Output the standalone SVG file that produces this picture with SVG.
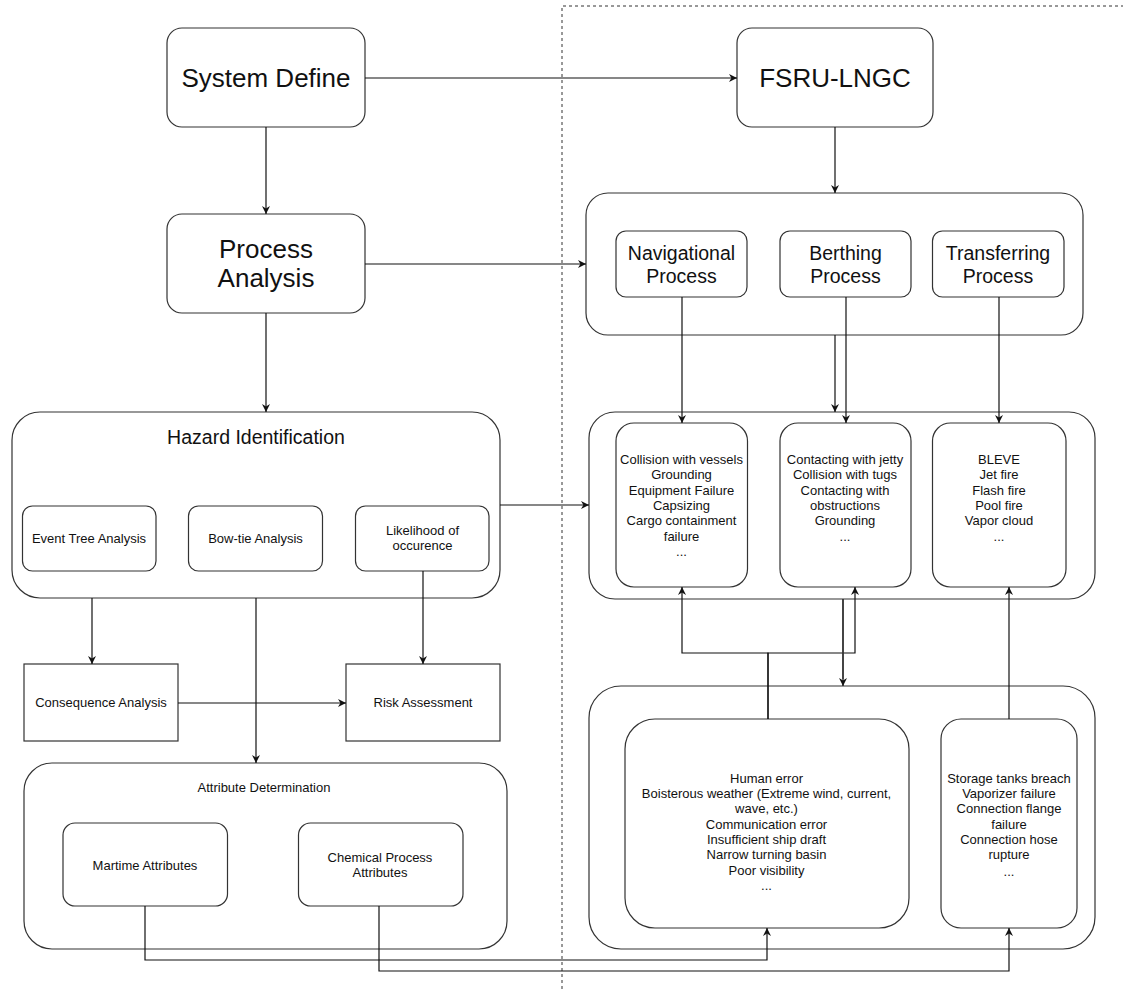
<svg xmlns="http://www.w3.org/2000/svg" width="1123" height="989" viewBox="0 0 1123 989">
<defs>
<style>
.box{fill:#fff;stroke:#333;stroke-width:1.2}
.t{font-family:"Liberation Sans",Arial,Helvetica,sans-serif;fill:#111;text-anchor:middle}
.xl{font-size:26px}
.l{font-size:19.5px}
.s{font-size:13px}
.c{fill:none;stroke:#111;stroke-width:1.2}
.g{fill:none;stroke:#777;stroke-width:1.6}
.a{marker-end:url(#arr)}
</style>
<marker id="arr" viewBox="0 0 10 10" refX="10" refY="5" markerWidth="8" markerHeight="8" markerUnits="userSpaceOnUse" orient="auto">
<path d="M0,0 L10,5 L0,10 L3,5 z" fill="#111"/>
</marker>
</defs>
<rect width="1123" height="989" fill="#fff"/>
<path d="M562,989 L562,6 L1123,6" fill="none" stroke="#333" stroke-width="1" stroke-dasharray="3 3"/>

<g id="system-define"><rect class="box" x="167" y="28" width="198" height="99" rx="15"/><text class="t xl" x="266" y="87">System Define</text></g>
<g id="process-analysis"><rect class="box" x="167" y="214" width="198" height="99" rx="15"/><text class="t xl" x="266" y="258">Process</text><text class="t xl" x="266" y="287">Analysis</text></g>
<g id="fsru-lngc"><rect class="box" x="737" y="28" width="196" height="99" rx="15"/><text class="t xl" x="835" y="87">FSRU-LNGC</text></g>

<g id="process-container"><rect class="box" x="586" y="193" width="497" height="142" rx="22"/></g>
<g id="navigational"><rect class="box" x="616" y="231" width="131" height="66" rx="10"/><text class="t l" x="681.5" y="259.5">Navigational</text><text class="t l" x="681.5" y="282.5">Process</text></g>
<g id="berthing"><rect class="box" x="780" y="231" width="131" height="66" rx="10"/><text class="t l" x="845.5" y="259.5">Berthing</text><text class="t l" x="845.5" y="282.5">Process</text></g>
<g id="transferring"><rect class="box" x="932.5" y="231" width="131.5" height="66" rx="10"/><text class="t l" x="998" y="259.5">Transferring</text><text class="t l" x="998" y="282.5">Process</text></g>

<g id="hazard-container"><rect class="box" x="589" y="412" width="506" height="187" rx="26"/></g>
<g id="nav-hazards"><rect class="box" x="616" y="423" width="131.5" height="164" rx="18"/>
<text class="t s" x="681.5" y="464">Collision with vessels</text><text class="t s" x="681.5" y="479.3">Grounding</text><text class="t s" x="681.5" y="494.6">Equipment Failure</text><text class="t s" x="681.5" y="510">Capsizing</text><text class="t s" x="681.5" y="525.3">Cargo containment</text><text class="t s" x="681.5" y="540.6">failure</text><text class="t s" x="681.5" y="556">...</text></g>
<g id="berth-hazards"><rect class="box" x="780" y="423" width="131" height="164" rx="18"/>
<text class="t s" x="845" y="464">Contacting with jetty</text><text class="t s" x="845" y="479.3">Collision with tugs</text><text class="t s" x="845" y="494.6">Contacting with</text><text class="t s" x="845" y="510">obstructions</text><text class="t s" x="845" y="525.3">Grounding</text><text class="t s" x="845" y="540.6">...</text></g>
<g id="transfer-hazards"><rect class="box" x="932.5" y="423" width="133.5" height="164" rx="18"/>
<text class="t s" x="999" y="464">BLEVE</text><text class="t s" x="999" y="479.3">Jet fire</text><text class="t s" x="999" y="494.6">Flash fire</text><text class="t s" x="999" y="510">Pool fire</text><text class="t s" x="999" y="525.3">Vapor cloud</text><text class="t s" x="999" y="540.6">...</text></g>

<g id="causes-container"><rect class="box" x="589" y="686" width="506" height="263" rx="32"/></g>
<g id="maritime-causes"><rect class="box" x="625" y="719" width="284" height="209" rx="30"/>
<text class="t s" x="766.5" y="782.5">Human error</text><text class="t s" x="766.5" y="798">Boisterous weather (Extreme wind, current,</text><text class="t s" x="766.5" y="813.3">wave, etc.)</text><text class="t s" x="766.5" y="828.7">Communication error</text><text class="t s" x="766.5" y="844">Insufficient ship draft</text><text class="t s" x="766.5" y="859.4">Narrow turning basin</text><text class="t s" x="766.5" y="874.8">Poor visibility</text><text class="t s" x="766.5" y="890">...</text></g>
<g id="chemical-causes"><rect class="box" x="941" y="719" width="136" height="209" rx="20"/>
<text class="t s" x="1009" y="782.5">Storage tanks breach</text><text class="t s" x="1009" y="798">Vaporizer failure</text><text class="t s" x="1009" y="813.3">Connection flange</text><text class="t s" x="1009" y="828.7">failure</text><text class="t s" x="1009" y="844">Connection hose</text><text class="t s" x="1009" y="859.4">rupture</text><text class="t s" x="1009" y="876">...</text></g>

<g id="hazard-identification"><rect class="box" x="12" y="412" width="488" height="186" rx="28"/><text class="t l" x="256" y="444">Hazard Identification</text></g>
<g id="event-tree"><rect class="box" x="22.5" y="506" width="133.5" height="65" rx="10"/><text class="t s" x="89" y="543">Event Tree Analysis</text></g>
<g id="bow-tie"><rect class="box" x="188.5" y="506" width="134" height="65" rx="10"/><text class="t s" x="255.5" y="543">Bow-tie Analysis</text></g>
<g id="likelihood"><rect class="box" x="355.5" y="506" width="133.5" height="65" rx="10"/><text class="t s" x="422.5" y="535">Likelihood of</text><text class="t s" x="422.5" y="550">occurence</text></g>

<g id="consequence"><rect class="box" x="24" y="664" width="154" height="77"/><text class="t s" x="101" y="707">Consequence Analysis</text></g>
<g id="risk"><rect class="box" x="346" y="664" width="154" height="77"/><text class="t s" x="423" y="707">Risk Assessment</text></g>

<g id="attribute-determination"><rect class="box" x="24" y="763" width="483" height="186" rx="28"/><text class="t s" x="264" y="792">Attribute Determination</text></g>
<g id="maritime-attributes"><rect class="box" x="63" y="823" width="164.5" height="83" rx="12"/><text class="t s" x="145" y="870">Martime Attributes</text></g>
<g id="chemical-attributes"><rect class="box" x="298.5" y="823" width="164.5" height="83" rx="12"/><text class="t s" x="380" y="862">Chemical Process</text><text class="t s" x="380" y="877">Attributes</text></g>

<g id="connectors">
<path class="c a" d="M266,127 L266,214"/>
<path class="c a" d="M266,313 L266,412"/>
<path class="c a" d="M365,78 L737,78"/>
<path class="c a" d="M365,264 L586,264"/>
<path class="c a" d="M835,127 L835,193"/>
<path class="c a" d="M682,297 L682,423"/>
<path class="c a" d="M846,297 L846,423"/>
<path class="c a" d="M835,335 L835,412"/>
<path class="c a" d="M999,297 L999,423"/>
<path class="c a" d="M500,505 L589,505"/>
<path class="c a" d="M768,719 L768,653 L682,653 L682,587"/>
<path class="c a" d="M768,719 L768,653 L855,653 L855,587"/>
<path class="g" d="M843,599 L843,679"/>
<path class="c a" d="M843,599 L843,686"/>
<path class="c a" d="M1009,719 L1009,587"/>
<path class="c a" d="M92,598 L92,664"/>
<path class="c a" d="M256,598 L256,763"/>
<path class="c a" d="M423,571 L423,664"/>
<path class="c a" d="M178,703 L346,703"/>
<path class="c a" d="M145,906 L145,960 L767,960 L767,928"/>
<path class="c a" d="M379,906 L379,971 L1009,971 L1009,928"/>
</g>
</svg>
